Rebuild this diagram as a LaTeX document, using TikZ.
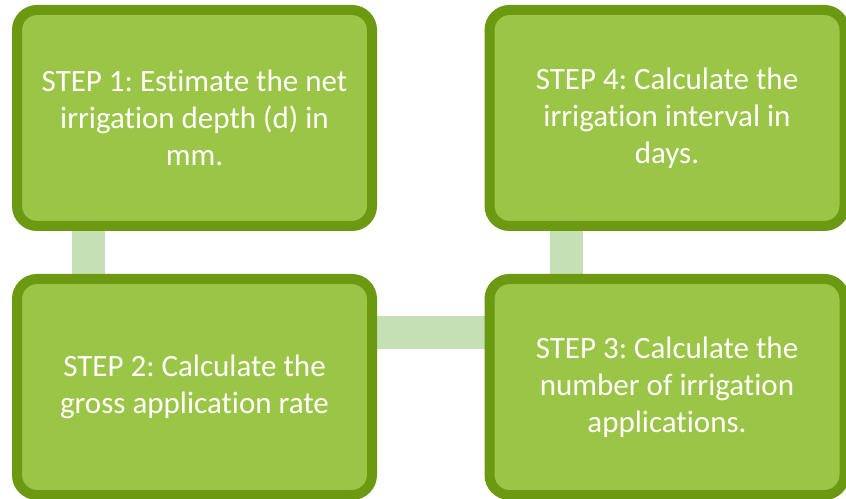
\documentclass[tikz,border=0pt]{standalone}
\usepackage{fontspec}
\setmainfont{Carlito}[Ligatures=NoCommon]
\usetikzlibrary{backgrounds}
\definecolor{stepfill}{RGB}{155,197,71}
\definecolor{stepline}{RGB}{107,153,18}
\definecolor{linkfill}{RGB}{197,224,180}
\tikzset{
  stepbox/.style={draw=stepline,fill=stepfill,line width=10pt,rounded corners=20pt,
    minimum width=355pt,minimum height=216pt,text=white,align=center,
    font=\fontsize{31}{37}\selectfont},
  link/.style={draw=linkfill,line width=33pt}
}
\frenchspacing
\begin{document}
\begin{tikzpicture}[x=1pt,y=1pt]
  \useasboundingbox (0,0) rectangle (846,498);
  \node[stepbox] (s1) at (194.5,380) {STEP 1: Estimate the net\\irrigation depth (d) in\\mm.};
  \node[stepbox] (s2) at (194.5,111) {STEP 2: Calculate the\\gross application rate};
  \node[stepbox] (s3) at (667,111) {STEP 3: Calculate the\\number of irrigation\\applications.};
  \node[stepbox] (s4) at (667,380) {STEP 4: Calculate the\\irrigation interval in\\days.};
  % connectors behind the boxes
  \begin{scope}[on background layer]
    \draw[link] ([xshift=-106pt]s1.south) -- ([xshift=-106pt]s2.north);
    \draw[link] ([yshift=54pt]s2.east) -- ([yshift=54pt]s3.west);
    \draw[link] ([xshift=-101pt]s4.south) -- ([xshift=-101pt]s3.north);
  \end{scope}
\end{tikzpicture}
\end{document}
